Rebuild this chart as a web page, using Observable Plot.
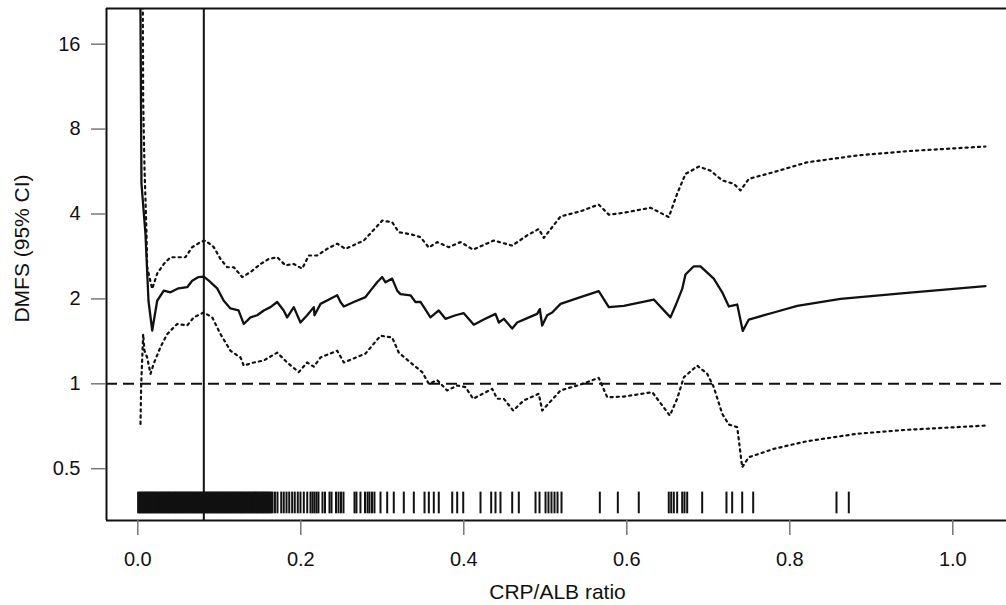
<!DOCTYPE html>
<html><head><meta charset="utf-8">
<script src="https://cdn.jsdelivr.net/npm/d3@7"></script>
<script src="https://cdn.jsdelivr.net/npm/@observablehq/plot@0.6"></script>
<style>
html,body{margin:0;padding:0;background:#fff;overflow:hidden;}
#chart svg{display:block;}
</style></head><body><div id="chart"></div>
<script>
const xTicks = [0, 0.2, 0.4, 0.6, 0.8, 1.0];
const yTicks = [0.5, 1, 2, 4, 8, 16];
const yTickLabels = ["0.5", "1", "2", "4", "8", "16"];
const cutoff = 0.081;
const reference = 1;

// hazard ratio curve [CRP/ALB, DMFS HR]
const hr = [[0.003,29],[0.0045,5.13],[0.0094,3.41],[0.0131,1.97],[0.0177,1.545],[0.0238,1.97],[0.0319,2.14],[0.0401,2.11],[0.0499,2.18],[0.0606,2.20],[0.0667,2.32],[0.0745,2.39],[0.081,2.40],[0.0871,2.32],[0.0974,2.18],[0.1055,1.97],[0.1137,1.85],[0.1236,1.82],[0.130,1.63],[0.1383,1.72],[0.1465,1.75],[0.1546,1.82],[0.1628,1.87],[0.171,1.95],[0.179,1.82],[0.1833,1.72],[0.1914,1.87],[0.1996,1.65],[0.2078,1.75],[0.216,1.87],[0.2168,1.75],[0.2242,1.92],[0.2405,2.03],[0.2447,2.06],[0.2487,1.95],[0.2528,1.88],[0.265,1.95],[0.2794,2.03],[0.2855,2.14],[0.2937,2.29],[0.2999,2.39],[0.3039,2.29],[0.3121,2.36],[0.3183,2.14],[0.3223,2.08],[0.3346,2.06],[0.3407,1.95],[0.3469,1.95],[0.3591,1.72],[0.3693,1.82],[0.3775,1.70],[0.3898,1.75],[0.40,1.78],[0.4123,1.62],[0.4245,1.69],[0.4389,1.77],[0.443,1.65],[0.4491,1.70],[0.4594,1.57],[0.4655,1.65],[0.4778,1.71],[0.49,1.77],[0.4933,1.84],[0.4962,1.61],[0.5023,1.75],[0.5085,1.79],[0.5187,1.92],[0.5432,2.03],[0.5656,2.13],[0.5779,1.87],[0.5963,1.89],[0.6331,1.99],[0.6536,1.72],[0.6597,1.89],[0.668,2.17],[0.672,2.44],[0.6822,2.61],[0.6904,2.61],[0.7067,2.36],[0.7171,2.11],[0.7252,1.88],[0.7355,1.91],[0.7423,1.54],[0.7497,1.69],[0.7804,1.79],[0.8091,1.89],[0.8622,2.0],[0.944,2.10],[1.040,2.22]];

// upper 95% CI
const upper = [[0.0058,40],[0.0066,10.1],[0.0082,5.86],[0.0107,3.41],[0.0115,2.59],[0.0177,2.17],[0.0238,2.46],[0.0319,2.66],[0.0401,2.81],[0.0483,2.81],[0.0585,2.81],[0.0667,3.05],[0.0769,3.18],[0.0831,3.22],[0.0933,3.05],[0.1015,2.77],[0.1097,2.59],[0.1178,2.59],[0.1281,2.39],[0.1383,2.49],[0.1506,2.66],[0.1607,2.77],[0.171,2.81],[0.1812,2.63],[0.1914,2.66],[0.2017,2.56],[0.2098,2.85],[0.2201,2.85],[0.2324,3.01],[0.2447,3.14],[0.2548,3.01],[0.2773,3.22],[0.2999,3.79],[0.3121,3.74],[0.3202,3.45],[0.3367,3.38],[0.3469,3.31],[0.3571,3.04],[0.3674,3.18],[0.3816,3.05],[0.396,3.18],[0.4115,2.99],[0.4368,3.22],[0.4491,3.15],[0.4594,3.09],[0.4778,3.36],[0.492,3.54],[0.4982,3.29],[0.5187,3.92],[0.5432,4.09],[0.5656,4.32],[0.5779,3.98],[0.5963,4.04],[0.6291,4.21],[0.6515,3.90],[0.6618,4.72],[0.672,5.55],[0.6883,5.89],[0.7027,5.70],[0.7171,5.26],[0.7313,5.12],[0.7395,4.85],[0.7497,5.33],[0.7804,5.63],[0.8213,6.10],[0.8827,6.45],[0.944,6.68],[1.040,6.94]];

// lower 95% CI
const lower = [[0.0033,0.721],[0.0042,1.0],[0.0066,1.50],[0.0082,1.31],[0.0115,1.24],[0.0156,1.085],[0.0196,1.18],[0.0279,1.35],[0.0361,1.50],[0.0483,1.63],[0.0606,1.61],[0.0687,1.72],[0.081,1.79],[0.0913,1.72],[0.1015,1.50],[0.1137,1.31],[0.126,1.24],[0.130,1.16],[0.1423,1.19],[0.1546,1.21],[0.171,1.29],[0.1833,1.19],[0.1975,1.10],[0.2078,1.19],[0.216,1.15],[0.2242,1.24],[0.2447,1.31],[0.2528,1.19],[0.2794,1.28],[0.2978,1.48],[0.3121,1.46],[0.3202,1.29],[0.3346,1.19],[0.349,1.10],[0.3571,1.0],[0.3674,1.03],[0.3796,0.947],[0.3919,0.986],[0.4021,0.973],[0.4115,0.885],[0.4348,0.96],[0.441,0.885],[0.4491,0.885],[0.4606,0.804],[0.4736,0.873],[0.492,0.922],[0.4962,0.804],[0.5187,0.947],[0.5432,0.994],[0.5656,1.05],[0.576,0.896],[0.5963,0.901],[0.6312,0.934],[0.6528,0.772],[0.6618,0.885],[0.67,1.055],[0.6864,1.16],[0.6987,1.085],[0.7067,0.973],[0.7171,0.783],[0.7252,0.717],[0.7355,0.702],[0.7416,0.506],[0.7497,0.549],[0.7804,0.588],[0.8213,0.626],[0.8827,0.665],[0.944,0.687],[1.040,0.711]];

// rug: observed CRP/ALB values
const rugDense = [0.001,0.003,0.005,0.007,0.009,0.011,0.013,0.015,0.017,0.019,0.021,0.023,0.025,0.027,0.029,0.031,0.033,0.035,0.037,0.039,0.041,0.043,0.045,0.047,0.049,0.051,0.053,0.055,0.057,0.059,0.061,0.063,0.065,0.067,0.069,0.071,0.073,0.075,0.077,0.079,0.081,0.083,0.085,0.087,0.089,0.091,0.093,0.095,0.097,0.099,0.101,0.103,0.105,0.107,0.109,0.111,0.113,0.115,0.117,0.119,0.121,0.123,0.125,0.127,0.129,0.131,0.133,0.135,0.137,0.139,0.141,0.143,0.145,0.147,0.149,0.151,0.153,0.155,0.157,0.159,0.161,0.163];
const rugSparse = [0.1653,0.1683,0.1714,0.1760,0.1791,0.1825,0.1858,0.1894,0.1926,0.1963,0.1996,0.2037,0.2079,0.2119,0.2144,0.2168,0.2193,0.2217,0.2266,0.2297,0.2352,0.2377,0.2432,0.2463,0.2493,0.2524,0.2659,0.2683,0.2732,0.2788,0.2819,0.2843,0.2874,0.2904,0.2978,0.3060,0.3141,0.3264,0.3387,0.3518,0.3571,0.3632,0.3693,0.3858,0.3919,0.3993,0.4205,0.4336,0.4389,0.4450,0.4594,0.4675,0.4880,0.4929,0.5003,0.5039,0.5076,0.5113,0.5150,0.5199,0.5669,0.5890,0.6147,0.6515,0.6545,0.6577,0.6618,0.6680,0.6708,0.6741,0.6925,0.7223,0.7293,0.7416,0.7551,0.8573,0.8724];

const xDomain = [-0.0384, 1.0659];
const yDomain = [0.3276, 21.41];
const ink = "#111";
const px = d => d[0], py = d => d[1];
const yLabelData = yTicks.map((v, i) => ({v, label: yTickLabels[i]}));

const chart = Plot.plot({
  width: 1006,
  height: 605,
  marginLeft: 106,
  marginRight: 0,
  marginTop: 8,
  marginBottom: 85,
  style: {fontFamily: "'Liberation Sans', Arial, sans-serif", color: ink, background: "#fff", overflow: "hidden"},
  x: {domain: xDomain},
  y: {type: "log", domain: yDomain},
  marks: [
    Plot.ruleY([reference], {stroke: ink, strokeWidth: 2, strokeDasharray: "11,6"}),
    Plot.ruleX([cutoff], {stroke: ink, strokeWidth: 2}),
    Plot.ruleX(rugDense, {x: d => d, y1: 0.346, y2: 0.413, stroke: ink, strokeWidth: 3}),
    Plot.ruleX(rugSparse, {x: d => d, y1: 0.346, y2: 0.413, stroke: ink, strokeWidth: 2}),
    Plot.line(upper, {x: px, y: py, stroke: ink, strokeWidth: 2.2, strokeDasharray: "2.2,4", clip: true}),
    Plot.line(lower, {x: px, y: py, stroke: ink, strokeWidth: 2.2, strokeDasharray: "2.2,4", clip: true}),
    Plot.line(hr, {x: px, y: py, stroke: ink, strokeWidth: 2.3, clip: true}),
    Plot.ruleX([xDomain[0]], {stroke: ink, strokeWidth: 2}),
    Plot.ruleY([yDomain[0]], {stroke: ink, strokeWidth: 2}),
    Plot.ruleY([yDomain[1]], {stroke: ink, strokeWidth: 2}),
    Plot.axisY({ticks: yTicks, tickFormat: () => "", tickSize: 15, stroke: "#777", strokeWidth: 1.5, label: null}),
    Plot.text(yLabelData, {y: "v", text: "label", frameAnchor: "left", textAnchor: "end", dx: -26, fontSize: 20, fill: ink}),
    Plot.axisX({ticks: xTicks, tickFormat: d3.format(".1f"), tickSize: 15, tickPadding: 16, fontSize: 20, stroke: "#777", strokeWidth: 1.5, fill: ink, label: null}),
    Plot.text(["DMFS (95% CI)"], {text: d => d, frameAnchor: "left", textAnchor: "middle", lineAnchor: "middle", rotate: -90, dx: -84, dy: -16, fontSize: 21, fill: ink}),
    Plot.text(["CRP/ALB ratio"], {text: d => d, frameAnchor: "bottom", dx: 1, dy: 78, fontSize: 21, fill: ink})
  ]
});
document.getElementById("chart").appendChild(chart);
</script>
</body></html>
